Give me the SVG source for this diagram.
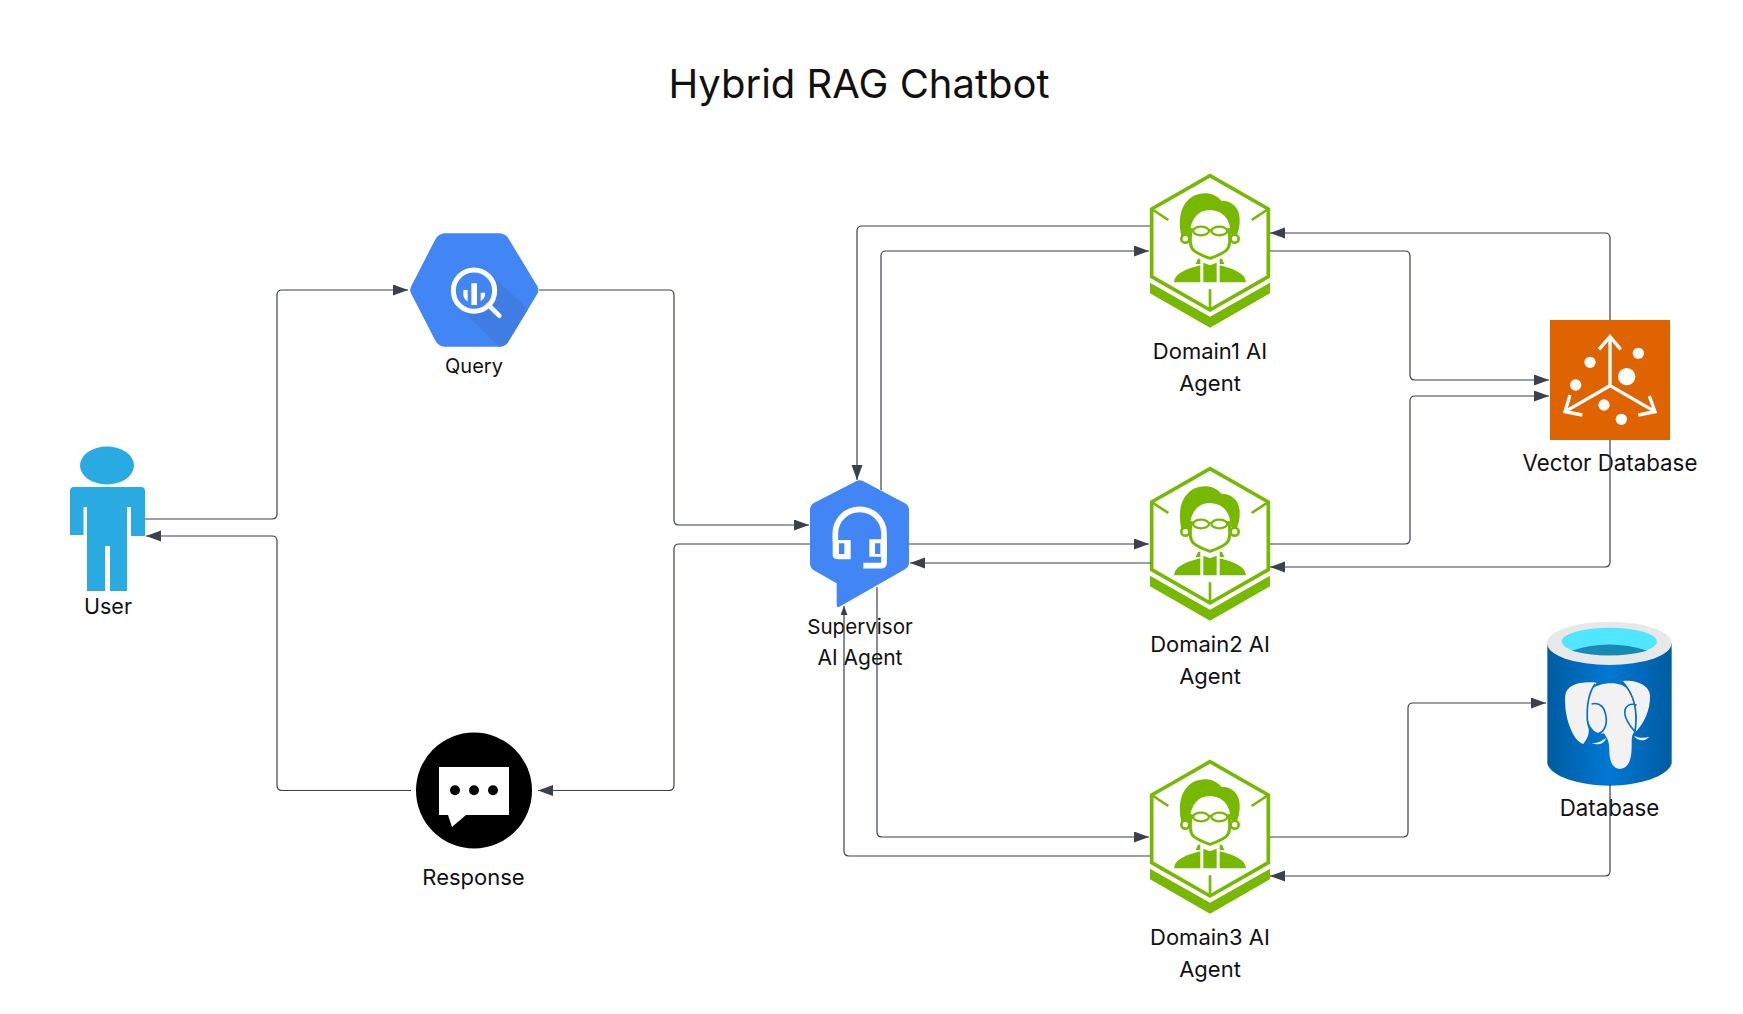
<svg xmlns="http://www.w3.org/2000/svg" xmlns:xlink="http://www.w3.org/1999/xlink" width="1743" height="1014" viewBox="0 0 1743 1014">
<style>
text{font-family:Inter,"Liberation Sans",sans-serif;font-size:22px;fill:#111;text-anchor:middle}
#title text{font-size:40px;fill:#111}
.c{fill:none;stroke:#3a414a;stroke-width:1.2;marker-end:url(#a)}
.g{fill:#76b900}
.gs{fill:none;stroke:#76b900}
</style>
<defs>
<marker id="a" markerUnits="userSpaceOnUse" markerWidth="16" markerHeight="12" refX="15" refY="5.5" orient="auto"><path d="M0 0L15 5.5L0 11Z" fill="#3a414a"/></marker>
<marker id="s" markerUnits="userSpaceOnUse" markerWidth="10" markerHeight="8" refX="9" refY="3.5" orient="auto"><path d="M0 0L9 3.5L0 7Z" fill="#3a414a"/></marker>
<linearGradient id="db"><stop offset="0" stop-color="#005ba1"/><stop offset=".5" stop-color="#0078d4"/><stop offset="1" stop-color="#005ba1"/></linearGradient>
<g id="agent" transform="scale(.33333)">
<path class="gs" stroke-width="11" d="M65 147L240 47L415 147V350L240 450L65 350Z"/>
<path class="gs" stroke-width="8" d="M65 147L115 180M415 147L365 180M240 388V450"/>
<path class="g" d="M60 368L240 470L420 368V400L240 503L60 400Z"/>
<path class="g" d="M154 228C143 175 152 130 190 108C220 93 255 98 274 122C308 122 328 145 329 175C330 197 326 214 320 226L302 222C302 185 285 152 240 150C205 150 182 175 178 226Z"/>
<path class="gs" stroke-width="9" d="M183 205C180 240 178 260 192 272C205 282 225 290 240 295C255 290 275 282 288 272C302 260 300 240 297 205"/>
<circle class="gs" stroke-width="8" cx="166" cy="236" r="12"/><circle class="gs" stroke-width="8" cx="314" cy="236" r="12"/>
<ellipse class="gs" stroke-width="7" cx="213" cy="213" rx="24" ry="13"/><ellipse class="gs" stroke-width="7" cx="268" cy="213" rx="24" ry="13"/>
<path class="gs" stroke-width="6" d="M236 210H245M188 208H170M293 208H310"/>
<path class="g" d="M132 367C135 340 165 328 211 316V367ZM348 367C345 340 315 328 269 316V367ZM220 308L240 316L260 308V367H220ZM197 312L204 296H211V312ZM283 312L276 296H269V312Z"/>
</g>
</defs>
<rect width="1743" height="1014" fill="#fff"/>
<g id="title"><text x="859" y="98">Hybrid RAG Chatbot</text></g>

<g id="user"><ellipse cx="107" cy="465.500" rx="27" ry="19" fill="#29abe2"/>
<path fill="#29abe2" d="M70 491Q70 487 74 487H141Q145 487 145 491V536H131V507H127V591H110V546H105V591H87V507H83.5V535H70Z"/>
<text x="108" y="614" style="font-size:21.500px">User</text></g>

<g id="query"><g transform="translate(400,220) scale(.33333)">
<path fill="#4285f4" d="M33 200L105 60Q115 40 135 40H298Q318 40 328 60L413 200Q417 210 413 220L328 360Q318 380 298 380H135Q115 380 105 360L33 220Q28 210 33 200Z"/>
<path fill="#3f7de3" d="M270 160L384 268L328 360Q318 380 298 380L190 275Z"/>
<circle cx="222" cy="212" r="62" fill="#4285f4" stroke="#fff" stroke-width="15"/>
<path fill="#fff" d="M190 210H203V245Q194 240 190 228ZM214 190H231V255H214ZM242 218H255V228Q252 238 242 243Z"/>
<path d="M265 255L298 287" stroke="#fff" stroke-width="14" stroke-linecap="round"/>
</g><text x="474" y="373" style="font-size:20px">Query</text></g>

<g id="response"><circle cx="474" cy="790.500" r="58" fill="#000"/>
<path fill="#fff" d="M439 767H509V815H466L452 827L448 815H439Z"/>
<circle cx="455" cy="790.300" r="5" fill="#000"/><circle cx="474" cy="790.300" r="5" fill="#000"/><circle cx="493" cy="790.300" r="5" fill="#000"/>
<text x="473.500" y="885">Response</text></g>

<g id="supervisor"><g transform="translate(780,450) scale(.33333)">
<path fill="#4285f4" d="M228 94Q238 88 250 94L375 160Q387 167 387 180V340Q387 350 375 358L178 470Q170 475 170 462V400L100 360Q90 352 90 340V180Q90 165 103 158Z"/>
<path fill="none" stroke="#fff" stroke-width="17" d="M166 275V250A73 72 0 0 1 312 250V338Q312 347 303 347H250"/>
<path fill="#fff" d="M165 270H212V328H175Q158 328 158 315V275ZM268 268H320V320H268Z"/>
<path fill="#4285f4" d="M177 280H193V312H177ZM285 280H301V312H285Z"/>
</g><text x="860" y="634" style="font-size:20.600px">Supervisor</text><text x="860" y="665" style="font-size:21px">AI Agent</text></g>

<g id="domain1"><use xlink:href="#agent" href="#agent" transform="translate(1130,160)"/><text x="1210" y="359">Domain1 AI</text><text x="1210" y="391">Agent</text></g>
<g id="domain2"><use xlink:href="#agent" href="#agent" transform="translate(1130,453)"/><text x="1210" y="652">Domain2 AI</text><text x="1210" y="684">Agent</text></g>
<g id="domain3"><use xlink:href="#agent" href="#agent" transform="translate(1130,746)"/><text x="1210" y="945">Domain3 AI</text><text x="1210" y="977">Agent</text></g>

<g id="vector"><rect x="1550" y="320" width="120" height="120" fill="#df6300"/>
<g transform="translate(1530,300) scale(.33333)">
<path fill="none" stroke="#fff" stroke-width="10" d="M240 110V257L105 335M240 257L375 335M207 148L240 110L272 148M120 285L105 335L157 345M358 288L375 335L325 345"/>
<g fill="#fff"><circle cx="325" cy="160" r="17"/><circle cx="180" cy="187" r="17"/><circle cx="290" cy="230" r="26"/><circle cx="137" cy="255" r="17"/><circle cx="222" cy="315" r="17"/><circle cx="274" cy="358" r="17"/></g>
</g><text x="1610" y="471" style="font-size:22.300px">Vector Database</text></g>

<g id="database"><g transform="translate(1530,610) scale(.33333)">
<path fill="url(#db)" d="M52 100V460C60 500 150 527 238 527C326 527 415 500 425 460V100Z"/>
<ellipse cx="238" cy="100" rx="187" ry="65" fill="#e8e8e8"/>
<ellipse cx="238" cy="95" rx="143" ry="42" fill="#50e6ff"/>
<path fill="#198ab3" d="M125 122Q238 85 352 122Q238 150 125 122Z"/>
<g fill="#f2f2f2">
<path d="M106 255C110 225 150 212 200 218C178 250 170 290 172 330C175 355 185 370 160 402C130 395 100 320 106 255Z"/>
<path d="M278 213C315 208 358 225 360 255C362 300 340 345 315 367C322 320 325 270 278 213Z"/>
<path d="M190 235C205 220 265 210 290 235C315 265 320 310 315 365C305 370 305 385 305 410C305 450 295 475 270 477C245 475 238 450 238 420C238 395 232 385 222 370C195 375 175 350 172 320C172 280 175 255 190 235Z"/>
<path d="M185 400C205 400 220 390 228 383C225 400 205 408 185 400ZM312 378C330 385 345 385 358 380C345 395 325 395 312 378Z"/>
</g>
<g fill="none" stroke="#0a6fc4" stroke-width="5"><path d="M195 222C175 250 170 290 172 330C175 355 185 370 200 372C222 370 232 345 228 320C225 295 212 275 185 282"/><path d="M278 216C310 250 325 300 315 365C300 350 280 320 285 300C288 288 300 278 320 285"/></g>
</g><text x="1609.500" y="816" style="font-size:22.300px">Database</text></g>

<g id="connectors">
<path class="c" d="M145 519H272Q277 519 277 514V295Q277 290 282 290H408"/>
<path class="c" d="M411 790.500H282Q277 790.500 277 785V541Q277 536 272 536H146"/>
<path class="c" d="M539 290H669Q674 290 674 295V520Q674 525 679 525H809"/>
<path class="c" d="M810 544H679Q674 544 674 549V785Q674 790.500 669 790.500H538"/>
<path class="c" d="M1150 226H862Q857 226 857 231V480"/>
<path class="c" d="M881 490V256Q881 251 886 251H1149"/>
<path class="c" d="M909 544H1149"/>
<path class="c" d="M1151 563H910"/>
<path class="c" d="M877 587V832Q877 837 882 837H1149"/>
<path class="c" style="marker-end:url(#s)" d="M1150 856H849Q844 856 844 851V606"/>
<path class="c" d="M1270 251H1405Q1410 251 1410 256V375Q1410 380 1415 380H1549"/>
<path class="c" d="M1270 544H1405Q1410 544 1410 539V401Q1410 396 1415 396H1549"/>
<path class="c" d="M1610 320V238Q1610 233 1605 233H1270"/>
<path class="c" d="M1610 440V562Q1610 567 1605 567H1270"/>
<path class="c" d="M1270 837H1403Q1408 837 1408 832V708Q1408 703 1413 703H1546"/>
<path class="c" d="M1610 784V871Q1610 876 1605 876H1270"/>
</g>
</svg>
